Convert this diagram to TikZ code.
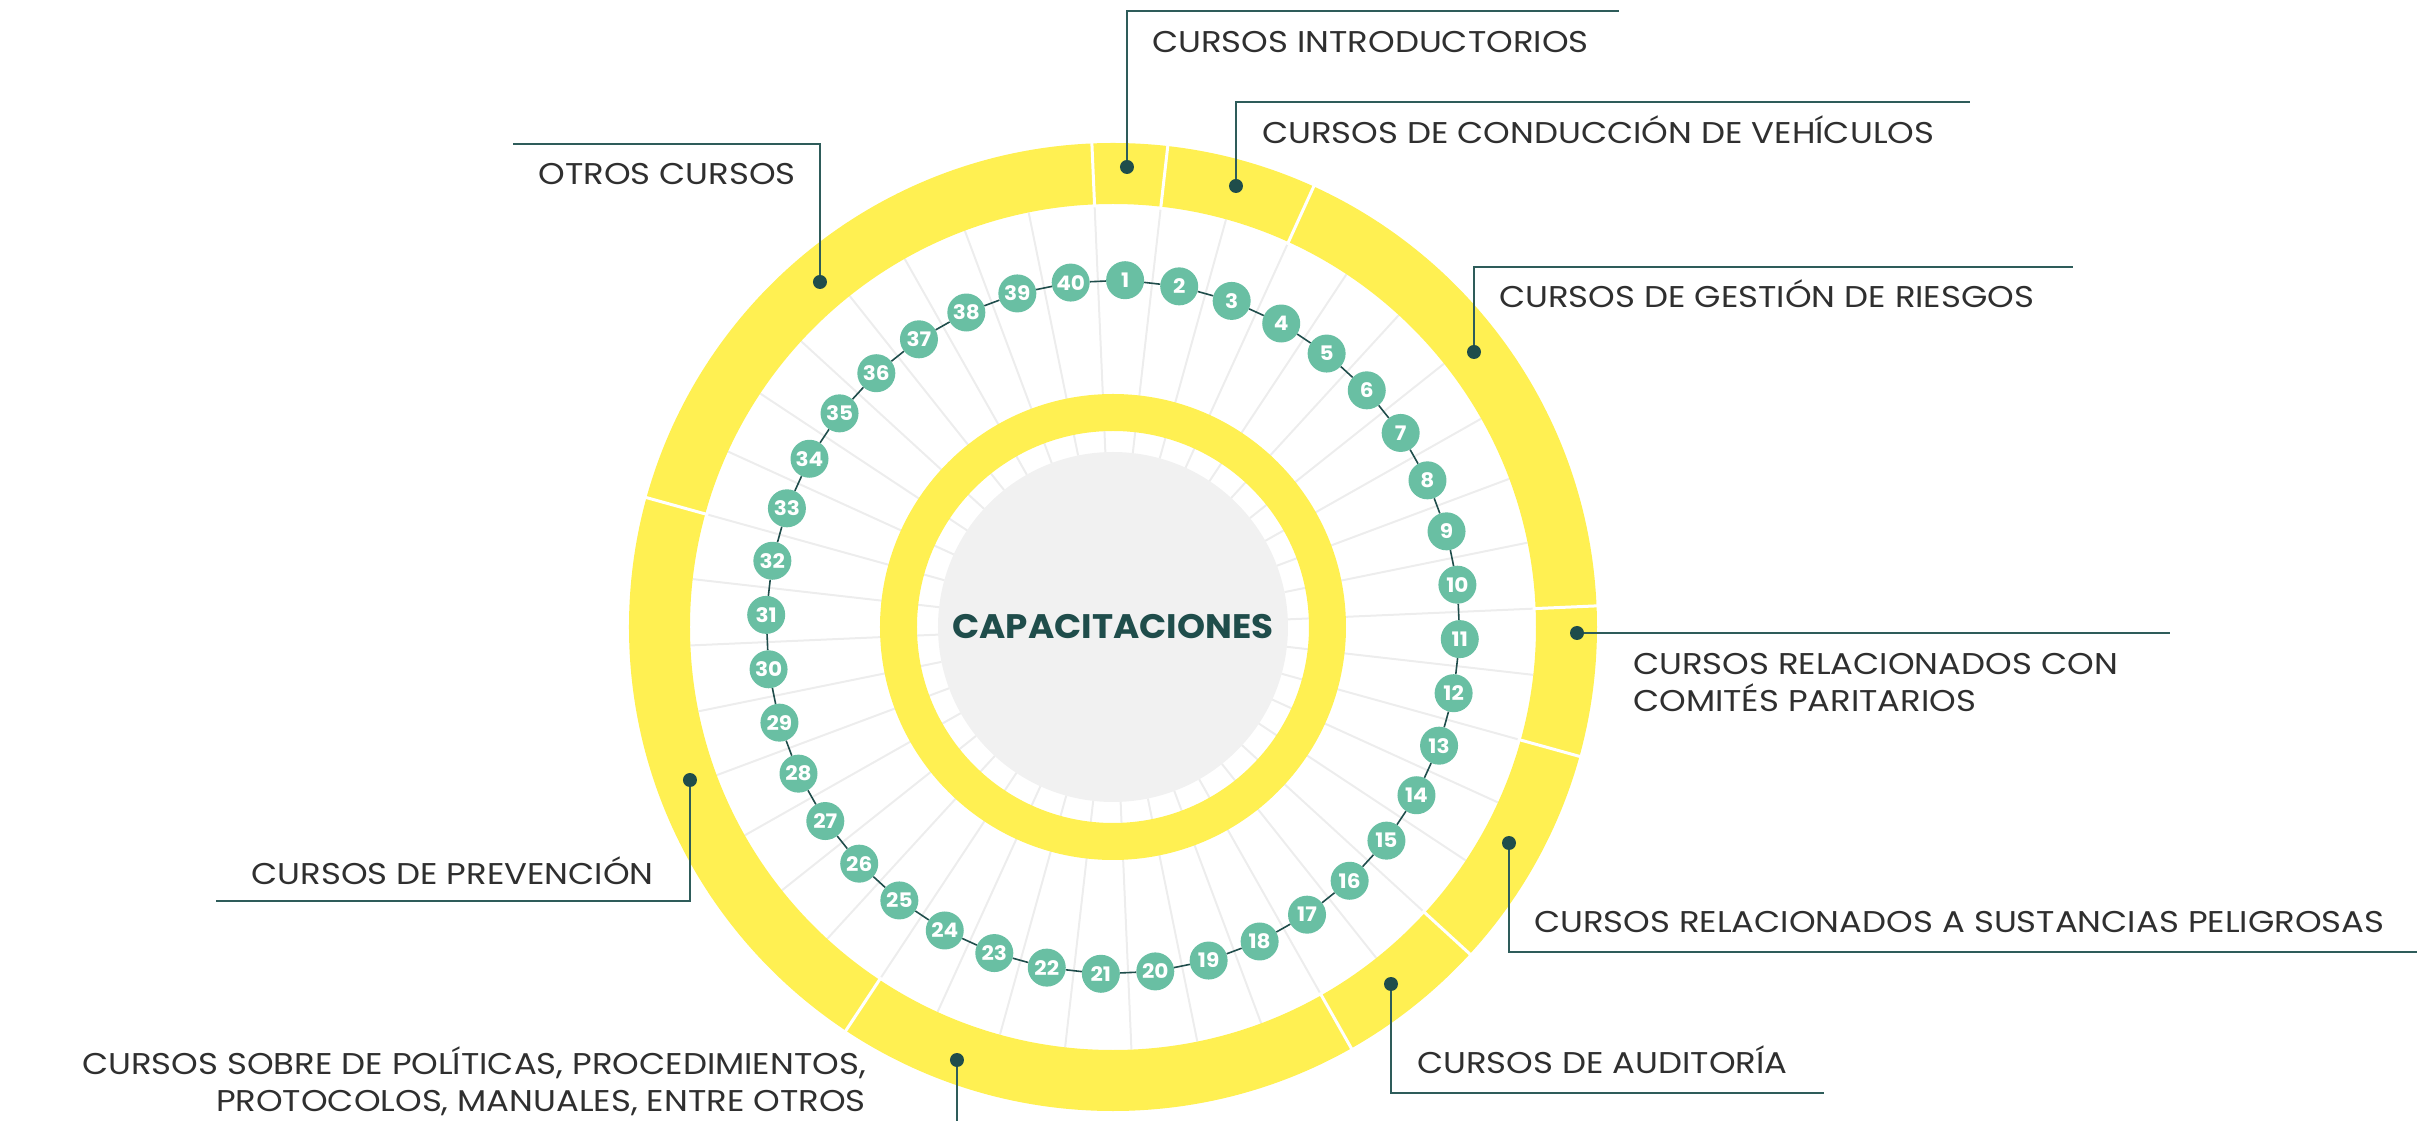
\documentclass[tikz,border=0pt]{standalone}
\usepackage{fontspec}
\setmainfont{Poppins}[FakeStretch=1.13]
\newfontfamily\fuenteCentro{Poppins}[FakeStretch=1.05]
\newfontfamily\fuenteNum{Poppins}[FakeStretch=1.08]
\usetikzlibrary{calc}
\definecolor{amarillo}{HTML}{FFF052}
\definecolor{verdeNum}{HTML}{69BFA3}
\definecolor{verdeOsc}{HTML}{1F4D4B}
\definecolor{lineaGuia}{HTML}{2E5C5A}
\definecolor{grisDisco}{HTML}{F1F1F1}
\definecolor{grisRadio}{HTML}{EDEDED}
\definecolor{grisTexto}{HTML}{2F2F2F}

\begin{document}
\begin{tikzpicture}[x=1pt,y=1pt,
  numero/.style={circle,fill=verdeNum,minimum size=38pt,inner sep=0pt,
    text=white,font=\fontsize{20}{20}\fuenteNum\bfseries},
  punto/.style={circle,fill=verdeOsc,minimum size=14pt,inner sep=0pt},
  guia/.style={draw=lineaGuia,line width=2.5pt},
  enlace/.style={draw=verdeOsc,line width=1.6pt},
  etiqueta/.style={text=grisTexto,font=\fontsize{30}{37.5}\selectfont,inner sep=0pt}]
  \useasboundingbox (-1113,-494) rectangle (1316,627);
  % rayos grises
  \foreach \k in {0,...,39}
    \draw[grisRadio,line width=2pt] ({92.5-9*\k}:175) -- ({92.5-9*\k}:423);
  % anillo exterior y sus cortes
  \fill[amarillo,even odd rule] (0,0) circle (484) (0,0) circle (423);
  \foreach \k in {0,1,3,10,12,15,17,24,32}
    \draw[white,line width=3pt] ({92.5-9*\k}:420) -- ({92.5-9*\k}:487);
  % anillo interior y disco
  \fill[amarillo,even odd rule] (0,0) circle (233) (0,0) circle (196);
  \fill[grisDisco] (0,0) circle (175);
  \node[font=\fontsize{34}{34}\fuenteCentro\bfseries,text=verdeOsc] (centro) at (0,0) {CAPACITACIONES};
  % cursos numerados
  \foreach \k in {1,...,40}
    \node[numero] (n\k) at ({97-9*\k}:347) {\k};
  \foreach \k in {1,...,40}{
    \pgfmathtruncatemacro\sig{mod(\k,40)+1}
    \draw[enlace] (n\k) -- (n\sig);
  }
  % puntos de las categorias
  \node[punto] (pIntro) at (14,460) {};
  \node[punto] (pConduc) at (123,441) {};
  \node[punto] (pGestion) at (361,275) {};
  \node[punto] (pComites) at (464,-6) {};
  \node[punto] (pSust) at (396,-216) {};
  \node[punto] (pAudit) at (278,-357) {};
  \node[punto] (pPolit) at (-156,-433) {};
  \node[punto] (pPrev) at (-423,-153) {};
  \node[punto] (pOtros) at (-293,345) {};
  \coordinate (fIntro) at (506,616);
  \coordinate (fConduc) at (857,525);
  \coordinate (fGestion) at (960,360);
  \coordinate (fComites) at (1057,-6);
  \coordinate (fSust) at (1304,-325);
  \coordinate (fAudit) at (711,-466);
  \coordinate (fPolit) at (-156,-494);
  \coordinate (fPrev) at (-897,-274);
  \coordinate (fOtros) at (-600,483);
  \draw[guia] (pIntro) |- (fIntro);
  \draw[guia] (pConduc) |- (fConduc);
  \draw[guia] (pGestion) |- (fGestion);
  \draw[guia] (pComites) -- (fComites);
  \draw[guia] (pSust) |- (fSust);
  \draw[guia] (pAudit) |- (fAudit);
  \draw[guia] (pPolit) -- (fPolit);
  \draw[guia] (pPrev) |- (fPrev);
  \draw[guia] (pOtros) |- (fOtros);
  % textos
  \node[etiqueta,anchor=base west] (tIntro) at (39,574) {CURSOS INTRODUCTORIOS};
  \node[etiqueta,anchor=base west] (tConduc) at (149,483) {CURSOS DE CONDUCCIÓN DE VEHÍCULOS};
  \node[etiqueta,anchor=base west] (tGestion) at (386,319) {CURSOS DE GESTIÓN DE RIESGOS};
  \node[etiqueta,anchor=north west,align=left] (tComites) at (520,-26)
    {CURSOS RELACIONADOS CON\\COMITÉS PARITARIOS};
  \node[etiqueta,anchor=base west] (tSust) at (421,-305) {CURSOS RELACIONADOS A SUSTANCIAS PELIGROSAS};
  \node[etiqueta,anchor=base west] (tAudit) at (304,-446) {CURSOS DE AUDITORÍA};
  \node[etiqueta,anchor=north east,align=right] (tPolit) at (-247,-419)
    {CURSOS SOBRE DE POLÍTICAS, PROCEDIMIENTOS,\\PROTOCOLOS, MANUALES, ENTRE OTROS};
  \node[etiqueta,anchor=base east] (tPrev) at (-459,-258) {CURSOS DE PREVENCIÓN};
  \node[etiqueta,anchor=base east] (tOtros) at (-317,442) {OTROS CURSOS};
\end{tikzpicture}
\end{document}
